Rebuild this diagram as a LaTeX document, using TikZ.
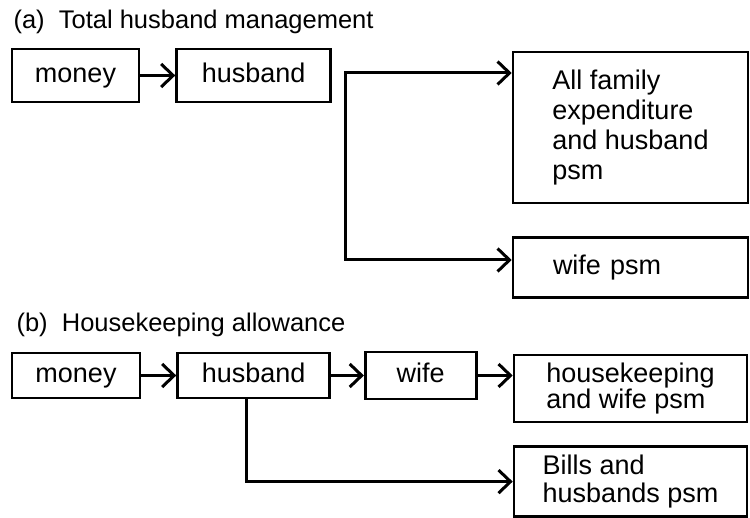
\documentclass[tikz,border=0pt]{standalone}
\usepackage{fontspec}
\setmainfont{Liberation Sans}
\usetikzlibrary{arrows.meta,positioning}
\tikzset{node distance=35pt, % gap between two boxes of a row
        >={Straight Barb[length=12pt,width=23pt]}, % open chevron heads
        box/.style={ % frame round each text
            draw,
            line width=2.6pt,
            minimum height=53pt,
            inner sep=0pt},
        word/.style={ % one line boxes, same baseline for all words
            box,
            text height=19.5pt,
            text depth=5.7pt},
        title/.style={ % the (a) and (b) headings
            anchor=base west,
            font=\fontsize{25.5}{30}\selectfont},
        wire/.style={ % lines with corners
            line width=3pt},
        every edge/.style={ % straight arrows between boxes
            draw,
            ->,
            line width=3pt}
        }

\begin{document}
\begin{tikzpicture}[x=1pt, y=-1pt, font=\fontsize{27}{30}\selectfont]
    \useasboundingbox (0,0) rectangle (750,518);

    % (a) total husband management
    \node[title] (titleA) at (10,29) {(a)\ \ Total husband management};
    \node[word, minimum width=127pt] (moneyA) at (75.5,75.5) {money};
    \node[word, minimum width=154pt] (husbandA) [right=of moneyA] {husband};
    \node[box, minimum width=235pt, minimum height=151pt, align=left] (familyA) at (630.5,127.5) {All family\\expenditure\\and husband\\psm};
    \node[word, minimum width=235pt, minimum height=60pt, text width=155pt, align=left] (wifeA) [below=32pt of familyA] {wife psm};
    \coordinate (forkA) at (345,73);
    \coordinate (bendA) at (345,260);

    \draw (moneyA) edge (husbandA);
    \draw[wire, <->] (forkA -| familyA.west) -- (forkA) -- (bendA) -- (bendA -| wifeA.west);

    % (b) housekeeping allowance
    \node[title] (titleB) at (13,332) {(b)\ \ Housekeeping allowance};
    \node[word, minimum width=128pt, minimum height=45pt] (moneyB) at (76,375.5) {money};
    \node[word, minimum width=152pt, minimum height=45pt] (husbandB) [right=of moneyB] {husband};
    \node[word, minimum width=111pt, minimum height=47pt] (wifeB) [right=33pt of husbandB] {wife};
    \node[box, minimum width=233pt, minimum height=67pt, align=left, font=\fontsize{27}{26}\selectfont] (houseB) at (630.5,388.5) {housekeeping\\and wife psm};
    \node[box, minimum width=233pt, minimum height=70pt, align=left, font=\fontsize{27}{28}\selectfont] (billsB) [below=22pt of houseB] {Bills and\\husbands psm};

    \draw
        (moneyB) edge (husbandB)
        (husbandB) edge (wifeB)
        (wifeB.east) edge (wifeB.east -| houseB.west);
    \draw[wire, ->] ([xshift=-7pt]husbandB.south) |- (billsB.west);
\end{tikzpicture}
\end{document}
